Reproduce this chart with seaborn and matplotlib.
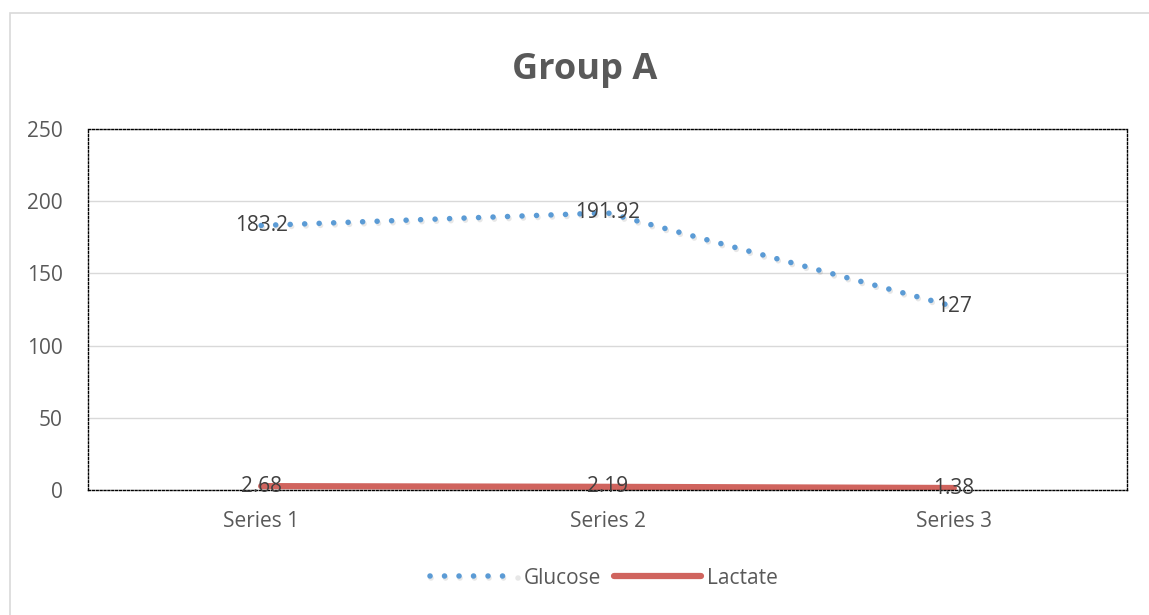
import matplotlib
matplotlib.use("Agg")
import matplotlib.pyplot as plt
import seaborn as sns
import pandas as pd
import numpy as np
from matplotlib.patches import Rectangle
import matplotlib.patheffects as pe

categories = ["Series 1", "Series 2", "Series 3"]
glucose = [183.2, 191.92, 127]
lactate = [2.68, 2.19, 1.38]
glucose_labels = ["183.2", "191.92", "127"]
lactate_labels = ["2.68", "2.19", "1.38"]
yticks = [0, 50, 100, 150, 200, 250]

sns.set_theme(style="white")
plt.rcParams['font.family'] = ['Open Sans', 'DejaVu Sans']

W, H = 1149, 615
fig = plt.figure(figsize=(W/100, H/100), dpi=100)
ax = fig.add_axes([88/W, 1-490/H, (1127-88)/W, (490-129)/H])

df = pd.DataFrame({"cat": categories, "x": np.arange(len(categories)),
                   "Glucose": glucose, "Lactate": lactate})

blue = "#5B9BD5"
red = "#D0645E"
txt = "#595959"
fs = 15

sns.lineplot(data=df, x="x", y="Glucose", ax=ax, color=blue, linewidth=4.0,
             label="Glucose", solid_capstyle="round", dash_capstyle="round",
             path_effects=[pe.SimpleLineShadow(offset=(1, -1.5), alpha=0.10, shadow_color="k"), pe.Normal()])
ax.lines[-1].set_linestyle((0, (0.01, 2.6)))
sns.lineplot(data=df, x="x", y="Lactate", ax=ax, color=red, linewidth=4.5,
             label="Lactate", solid_capstyle="round")

for i, (g, l) in enumerate(zip(glucose, lactate)):
    ax.text(i, g, glucose_labels[i], ha="center", va="center", fontsize=fs, color="#404040")
    ax.text(i, l, lactate_labels[i], ha="center", va="center", fontsize=fs, color="#404040")

ax.set_xlim(-0.5, len(categories) - 0.5)
ax.set_ylim(0, 250)
ax.set_yticks(yticks)
ax.set_xticks(np.arange(len(categories)))
ax.set_xticklabels(categories)
ax.set_xlabel("")
ax.set_ylabel("")
ax.tick_params(axis="both", length=0, labelsize=fs, labelcolor=txt)
ax.tick_params(axis="y", pad=18)
ax.tick_params(axis="x", pad=15)
ax.grid(axis="y", color="#D9D9D9", linewidth=1)
ax.set_axisbelow(True)
for s in ax.spines.values():
    s.set_visible(True)
    s.set_color("black")
    s.set_linewidth(1.0)
    s.set_linestyle((0, (1.4, 1.4)))

leg = ax.legend(loc="center", bbox_to_anchor=(604/W, 1-578/H), bbox_transform=fig.transFigure,
                ncol=2, frameon=False, fontsize=fs, handlelength=4.2, handletextpad=0.3,
                columnspacing=0.6)
for t in leg.get_texts():
    t.set_color(txt)

fig.text(585/W, 1-70/H, "Group A", ha="center", va="center", fontsize=26,
         fontweight="bold", color=txt)

fig.patches.append(Rectangle((10/W, -0.1), 1.2, 1-13/H+0.1, transform=fig.transFigure,
                             fill=False, edgecolor="#D9D9D9", linewidth=1.2))

fig.savefig("out.png", dpi=100)
